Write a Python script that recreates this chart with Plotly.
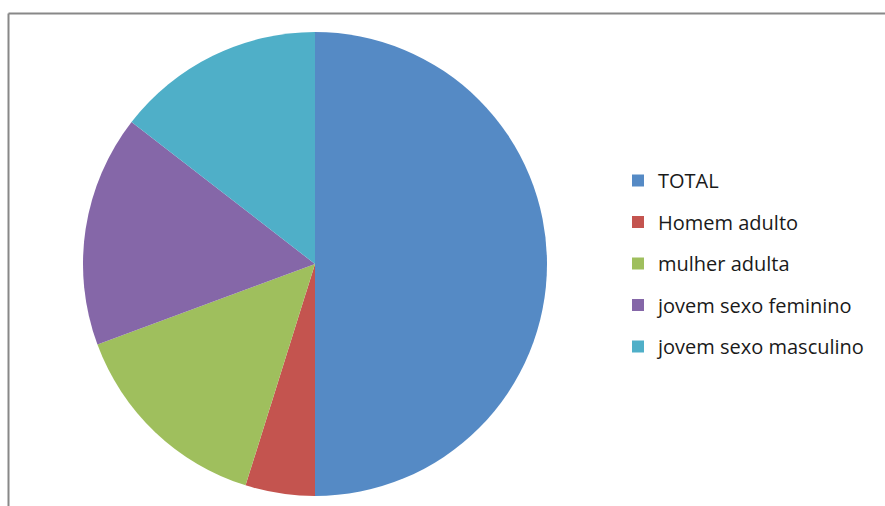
import plotly.graph_objects as go

labels = ["TOTAL", "Homem adulto", "mulher adulta", "jovem sexo feminino", "jovem sexo masculino"]
values = [31, 3, 9, 10, 9]
colors = ["#558AC5", "#C4544F", "#9FBF5D", "#8567A8", "#4FAFC8"]

W, H = 885, 506
cx, cy, r = 315, 264, 232

fig = go.Figure()
fig.add_trace(go.Pie(
    labels=labels, values=values, sort=False, direction="clockwise", rotation=0,
    marker=dict(colors=colors, line=dict(width=0)),
    textinfo="none", hoverinfo="label+value+percent", showlegend=False,
    domain=dict(x=[(cx - r) / W, (cx + r) / W], y=[(H - cy - r) / H, (H - cy + r) / H]),
))
for lab, col in zip(labels, colors):
    fig.add_trace(go.Scatter(
        x=[None], y=[None], mode="markers", name=lab,
        marker=dict(symbol="square", size=12, color=col),
        legendgroup=lab, showlegend=True,
    ))

top_y = 1 - 13.5 / H
left_x = 8.5 / W
fig.update_layout(
    width=W, height=H,
    margin=dict(l=0, r=0, t=0, b=0),
    paper_bgcolor="white", plot_bgcolor="white",
    xaxis=dict(visible=False), yaxis=dict(visible=False),
    showlegend=True,
    legend=dict(
        x=618 / W, y=1 - 161 / H, xanchor="left", yanchor="top",
        font=dict(family="Open Sans", size=20, color="#1a1a1a"),
        tracegroupgap=12.5, itemsizing="constant", bgcolor="rgba(0,0,0,0)",
        traceorder="grouped",
    ),
    shapes=[
        dict(type="line", xref="paper", yref="paper", x0=left_x, x1=1, y0=top_y, y1=top_y,
             line=dict(color="#888888", width=2)),
        dict(type="line", xref="paper", yref="paper", x0=left_x, x1=left_x, y0=0, y1=top_y,
             line=dict(color="#888888", width=2)),
    ],
)

fig.write_html("out.html", config={"displayModeBar": False},
               post_script="document.body.style.margin='0';")
